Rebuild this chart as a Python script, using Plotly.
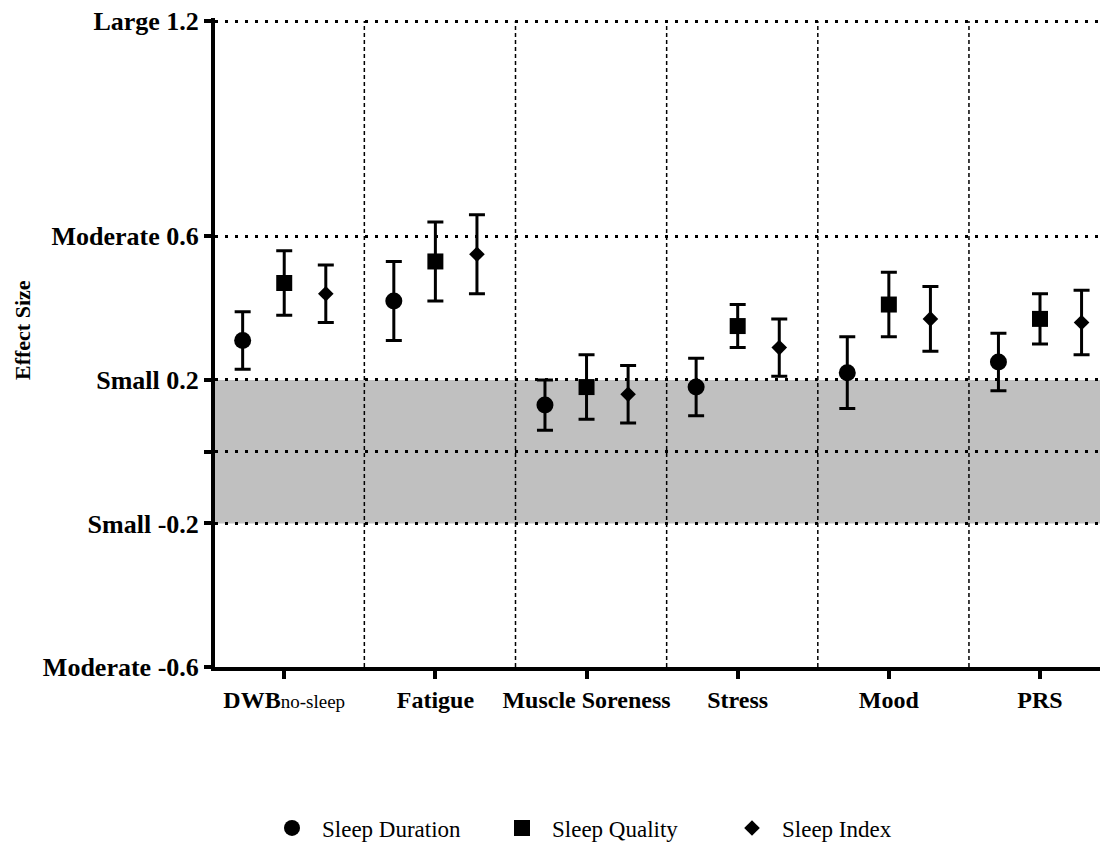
import plotly.graph_objects as go

categories = ["<b>DWB</b><span style='font-size:19px'>no-sleep</span>", "<b>Fatigue</b>",
              "<b>Muscle Soreness</b>", "<b>Stress</b>", "<b>Mood</b>", "<b>PRS</b>"]

duration = [0.31, 0.42, 0.13, 0.18, 0.22, 0.25]
duration_hi = [0.39, 0.53, 0.20, 0.26, 0.32, 0.33]
duration_lo = [0.23, 0.31, 0.06, 0.10, 0.12, 0.17]

quality = [0.47, 0.53, 0.18, 0.35, 0.41, 0.37]
quality_hi = [0.56, 0.64, 0.27, 0.41, 0.50, 0.44]
quality_lo = [0.38, 0.42, 0.09, 0.29, 0.32, 0.30]

index_ = [0.44, 0.55, 0.16, 0.29, 0.37, 0.36]
index_hi = [0.52, 0.66, 0.24, 0.37, 0.46, 0.45]
index_lo = [0.36, 0.44, 0.08, 0.21, 0.28, 0.27]

ytick_vals = [-0.6, -0.2, 0, 0.2, 0.6, 1.2]
ytick_text = ["Moderate -0.6", "Small -0.2", "", "Small 0.2", "Moderate 0.6", "Large 1.2"]

series = [
    ("Sleep Duration", duration, duration_hi, duration_lo, "circle", 17, -0.275),
    ("Sleep Quality", quality, quality_hi, quality_lo, "square", 16, 0.0),
    ("Sleep Index", index_, index_hi, index_lo, "diamond", 12, 0.275),
]

FONT = "Liberation Serif"
fig = go.Figure()
for name, m, hi, lo, sym, size, off in series:
    xs = [i + off for i in range(len(m))]
    fig.add_trace(go.Scatter(
        x=xs, y=m, mode="markers", name=name,
        marker=dict(symbol=sym, size=size, color="black"),
        error_y=dict(type="data", symmetric=False,
                     array=[h - v for h, v in zip(hi, m)],
                     arrayminus=[v - l for v, l in zip(m, lo)],
                     thickness=3, width=8, color="black"),
    ))

n = len(categories)
# shaded trivial-effect band
fig.add_shape(type="rect", xref="paper", x0=0, x1=1, yref="y", y0=-0.2, y1=0.2,
              fillcolor="#c0c0c0", line=dict(width=0), layer="below")
# category dividers
for k in range(n - 1):
    fig.add_shape(type="line", xref="x", x0=k + 0.53, x1=k + 0.53, yref="y", y0=-0.6, y1=1.2,
                  line=dict(color="black", width=1.5, dash="4px,3px"), layer="between")

# page body has an 8px margin, so the figure is offset by 8px
PW, PH = 890, 649
fig.update_layout(
    width=1108, height=860,
    margin=dict(l=207, r=11, t=10, b=201),
    plot_bgcolor="white", paper_bgcolor="white",
    font=dict(family=FONT, color="black"),
    showlegend=True,
    legend=dict(orientation="h", x=(262 - 215) / PW, xanchor="left", y=-(828 - 667) / PH,
                yanchor="middle",
                font=dict(family=FONT, size=23, color="black"), itemwidth=50,
                entrywidth=165, entrywidthmode="pixels"),
    xaxis=dict(range=[-0.458, 5.43], tickmode="array", tickvals=list(range(n)), ticktext=categories,
               showgrid=False, zeroline=False, showline=True, linecolor="black", linewidth=4,
               ticks="outside", ticklen=8, tickwidth=4, tickcolor="black", automargin=False,
               tickfont=dict(family=FONT, size=24, color="black")),
    yaxis=dict(range=[-0.6, 1.2084], tickmode="array", tickvals=ytick_vals, ticktext=ytick_text,
               showgrid=True, gridcolor="black", gridwidth=3, griddash="3px,7px",
               zeroline=False, showline=True, linecolor="black", linewidth=4,
               ticks="outside", ticklen=7, tickwidth=4, tickcolor="black", automargin=False,
               ticklabeloverflow="allow",
               tickfont=dict(family=FONT, size=26, color="black", weight="bold")),
)

fig.add_annotation(text="<b>Effect Size</b>", textangle=-90, xref="paper", yref="paper",
                   x=(22 - 215) / PW, y=(667 - 330) / PH, xanchor="center", yanchor="middle",
                   showarrow=False, font=dict(family=FONT, size=22, color="black"))

fig.write_html("out.html")
